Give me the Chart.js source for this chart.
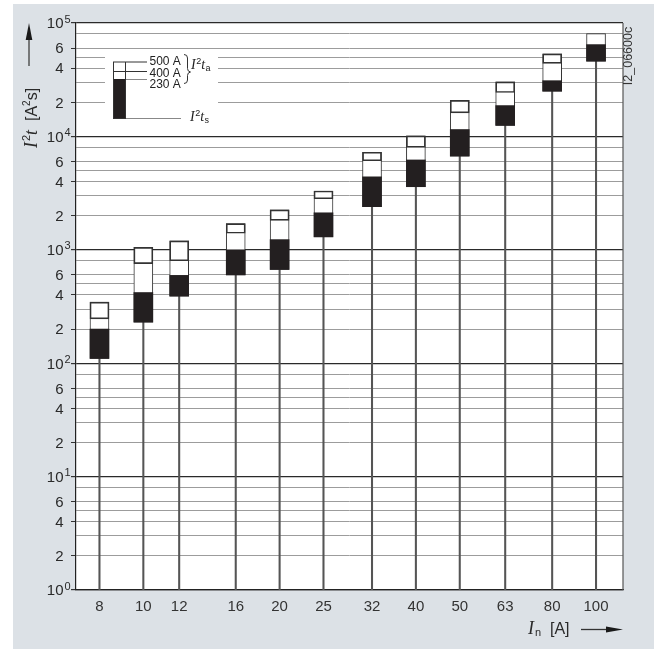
<!DOCTYPE html>
<html><head><meta charset="utf-8">
<script src="https://cdn.jsdelivr.net/npm/chart.js@4.4.0/dist/chart.umd.min.js"></script>
<style>html,body{margin:0;padding:0;background:#fff;}canvas{display:block;}</style>
</head><body>
<canvas id="c" width="654" height="649"></canvas>
<script>
// ---- data ----
const ratings   = [8, 10, 12, 16, 20, 25, 32, 40, 50, 63, 80, 100];          // In [A]
const i2tS      = [110, 230, 390, 600, 670, 1300, 2400, 3600, 6700, 12500, 25000, 46000];   // I²t_s
const i2tA230   = [200, 420, 595, 1000, 1230, 2120, 4400, 6200, 11500, 18700, 31000, 64500]; // I²t_a 230 A
const i2tA400   = [246, 755, 800, 1400, 1820, 2820, 6100, 8000, 16100, 24400, 44000, null];  // I²t_a 400 A
const i2tA500   = [346, 1050, 1200, 1700, 2250, 3300, 7250, 10100, 20800, 30300, 53500, 80700]; // I²t_a 500 A
const xTickLabels = ['8','10','12','16','20','25','32','40','50','63','80','100'];
const yDecades   = [1, 10, 100, 1000, 10000, 100000];
const yGridMant  = [1, 2, 3, 4, 5, 6, 8];
const yLabelMant = [2, 4, 6];

const SANS = '"Liberation Sans", Arial, Helvetica, sans-serif';
const SERIF = '"Liberation Serif", "Times New Roman", serif';

const yGridValues = [];
yDecades.forEach((d, i) => {
  if (i === yDecades.length - 1) { yGridValues.push(d); return; }
  yGridMant.forEach(m => yGridValues.push(m * d));
});
function isDecade(v){ const l = Math.log10(v); return Math.abs(l - Math.round(l)) < 1e-9; }
function mant(v){ return Math.round(v / Math.pow(10, Math.floor(Math.log10(v) + 1e-9))); }
function isLabeled(v){ return isDecade(v) || yLabelMant.includes(mant(v)); }

const stemData  = ratings.map((x, i) => ({x, y: [1, i2tS[i]]}));
const boxData   = ratings.map((x, i) => ({x, y: [i2tS[i], i2tA500[i]]}));
const blackData = ratings.map((x, i) => ({x, y: [i2tS[i], i2tA230[i]]}));
const line400   = ratings.map((x, i) => i2tA400[i] == null ? null : ({x, y: [i2tA400[i], i2tA500[i]]})).filter(Boolean);

const bgPlugin = {
  id: 'bg',
  beforeDraw(chart) {
    const c = chart.ctx, a = chart.chartArea;
    c.save();
    c.fillStyle = '#ffffff'; c.fillRect(0, 0, chart.width, chart.height);
    c.fillStyle = '#dce1e6'; c.fillRect(13, 4, chart.width - 13, chart.height - 4);
    c.fillStyle = '#ffffff'; c.fillRect(a.left, a.top, a.right - a.left, a.bottom - a.top);
    c.restore();
  },
  beforeDatasetsDraw(chart) {
    const c = chart.ctx;
    c.save(); c.fillStyle = '#ffffff'; c.fillRect(105, 52, 113, 73); c.restore();
  }
};

function richText(c, parts, x, y) {
  let cx = x;
  parts.forEach(p => { c.font = p[1]; c.fillText(p[0], cx, y + (p[2] || 0)); cx += c.measureText(p[0]).width + (p[3] || 0); });
  return cx;
}

const decoPlugin = {
  id: 'deco',
  afterDraw(chart) {
    const c = chart.ctx, a = chart.chartArea, ys = chart.scales.y;
    c.save();
    // right frame line
    c.strokeStyle = '#555'; c.lineWidth = 1.2;
    c.beginPath(); c.moveTo(a.right, a.top); c.lineTo(a.right, a.bottom); c.stroke();
    // y tick labels
    c.fillStyle = '#2a2a2a'; c.textBaseline = 'alphabetic';
    yGridValues.forEach(v => {
      if (!isLabeled(v)) return;
      const py = ys.getPixelForValue(v);
      if (isDecade(v)) {
        c.font = '15px ' + SANS; c.textAlign = 'right';
        c.fillText('10', 63.5, py + 5.3);
        c.font = '11px ' + SANS; c.textAlign = 'left';
        c.fillText(String(Math.round(Math.log10(v))), 64.5, py - 0.5);
      } else {
        c.font = '15px ' + SANS; c.textAlign = 'right';
        c.fillText(String(mant(v)), 63.5, py + 5.3);
      }
    });
    c.textAlign = 'left';
    // y axis title (rotated)
    c.save();
    c.translate(37, 148); c.rotate(-Math.PI / 2);
    c.fillStyle = '#2a2a2a';
    richText(c, [
      ['I', 'italic 18px ' + SERIF, 0, 1],
      ['2', '11px ' + SANS, -7, 0],
      ['t', 'italic 18px ' + SERIF, 0, 0],
      ['  [A', '16px ' + SANS, 0, 0],
      ['2', '10px ' + SANS, -7, 0],
      ['s]', '16px ' + SANS, 0, 0]
    ], 0, 0);
    c.restore();
    // y arrow
    c.strokeStyle = '#555'; c.lineWidth = 1.5;
    c.beginPath(); c.moveTo(29, 66); c.lineTo(29, 38); c.stroke();
    c.fillStyle = '#1a1a1a';
    c.beginPath(); c.moveTo(29, 23); c.lineTo(32.3, 40); c.lineTo(25.7, 40); c.closePath(); c.fill();
    // x axis title
    c.fillStyle = '#2a2a2a';
    richText(c, [
      ['I', 'italic 18px ' + SERIF, 0, 1],
      ['n', '11px ' + SANS, 2, 0],
      ['  [A]', '16px ' + SANS, 0, 0]
    ], 528, 634);
    c.strokeStyle = '#333'; c.lineWidth = 1.3;
    c.beginPath(); c.moveTo(581, 629.5); c.lineTo(608, 629.5); c.stroke();
    c.fillStyle = '#1a1a1a';
    c.beginPath(); c.moveTo(623, 629.5); c.lineTo(606, 626.6); c.lineTo(606, 632.4); c.closePath(); c.fill();
    // id label
    c.save();
    c.translate(632, 56); c.rotate(-Math.PI / 2);
    c.font = '12.5px ' + SANS; c.textAlign = 'center'; c.fillStyle = '#333';
    c.fillText('I2_06600c', 0, 0);
    c.restore();
    // legend
    c.fillStyle = '#231f20'; c.fillRect(113.5, 79, 12, 39.5);
    c.strokeStyle = '#333'; c.lineWidth = 1;
    c.strokeRect(113.5, 62, 12, 56.5);
    c.beginPath(); c.moveTo(113.5, 71.5); c.lineTo(125.5, 71.5); c.stroke();
    c.beginPath(); c.moveTo(126, 62); c.lineTo(147, 62); c.moveTo(126, 71.5); c.lineTo(147, 71.5); c.stroke();
    c.strokeStyle = '#888';
    c.beginPath(); c.moveTo(126, 79.5); c.lineTo(147, 79.5); c.moveTo(126, 118.5); c.lineTo(181, 118.5); c.stroke();
    c.fillStyle = '#222'; c.font = '12px ' + SANS;
    c.fillText('500 A', 149.5, 64.8);
    c.fillText('400 A', 149.5, 76.5);
    c.fillText('230 A', 149.5, 88.3);
    // brace
    c.strokeStyle = '#333'; c.lineWidth = 1;
    c.beginPath();
    c.moveTo(184, 54.5);
    c.quadraticCurveTo(187.5, 54.5, 187.5, 58);
    c.lineTo(187.5, 68.5);
    c.quadraticCurveTo(187.5, 71.5, 190.5, 72);
    c.quadraticCurveTo(187.5, 72.5, 187.5, 75.5);
    c.lineTo(187.5, 80);
    c.quadraticCurveTo(187.5, 83.5, 184, 83.5);
    c.stroke();
    richText(c, [
      ['I', 'italic 14px ' + SERIF, 0, 0.5],
      ['2', '9px ' + SANS, -5, 0],
      ['t', 'italic 14px ' + SERIF, 0, 0.5],
      ['a', '9px ' + SANS, 2, 0]
    ], 191, 69);
    richText(c, [
      ['I', 'italic 14px ' + SERIF, 0, 0.5],
      ['2', '9px ' + SANS, -5, 0],
      ['t', 'italic 14px ' + SERIF, 0, 0.5],
      ['s', '9px ' + SANS, 2, 0]
    ], 190, 120.5);
    c.restore();
  }
};

new Chart(document.getElementById('c'), {
  type: 'bar',
  data: {
    datasets: [
      { label: '400 A', data: line400, backgroundColor: 'rgba(0,0,0,0)', borderColor: '#333', borderWidth: 1, borderSkipped: false, barThickness: 19, grouped: false },
      { label: '230 A', data: blackData, backgroundColor: '#231f20', borderWidth: 0, barThickness: 19, grouped: false },
      { label: '500 A', data: boxData, backgroundColor: '#ffffff', borderColor: '#333', borderWidth: 1, borderSkipped: false, barThickness: 19, grouped: false },
      { label: 'stem', data: stemData, backgroundColor: '#555', borderWidth: 0, barThickness: 1.4, grouped: false }
    ]
  },
  options: {
    responsive: false,
    animation: false,
    devicePixelRatio: 1,
    layout: { padding: { left: 0, right: 31, top: 23, bottom: 0 } },
    plugins: { legend: { display: false }, tooltip: { enabled: false } },
    scales: {
      x: {
        type: 'logarithmic', min: 7.1, max: 114.7, position: 'bottom',
        afterBuildTicks: s => { s.ticks = ratings.map(v => ({ value: v })); },
        afterFit: s => { s.height = 59; },
        grid: { display: false, drawTicks: false },
        border: { display: true, color: '#222', width: 1.2 },
        ticks: {
          autoSkip: false, maxRotation: 0, minRotation: 0, padding: 8, color: '#333',
          font: { family: SANS, size: 15 },
          callback: (v) => { const i = ratings.indexOf(v); return i >= 0 ? xTickLabels[i] : ''; }
        }
      },
      y: {
        type: 'logarithmic', min: 1, max: 100000,
        afterBuildTicks: s => { s.ticks = yGridValues.map(v => ({ value: v })); },
        afterFit: s => { s.width = 76; },
        grid: {
          color: c => (c.tick && isDecade(c.tick.value)) ? '#2a2a2a' : '#9c9c9c',
          lineWidth: c => (c.tick && isDecade(c.tick.value)) ? 1.2 : 1,
          tickColor: c => (c.tick && isLabeled(c.tick.value)) ? '#333' : 'rgba(0,0,0,0)',
          tickLength: 5, drawTicks: true
        },
        border: { display: true, color: '#222', width: 1.2 },
        ticks: { callback: () => '', padding: 0, autoSkip: false }
      }
    }
  },
  plugins: [bgPlugin, decoPlugin]
});
</script>
</body></html>
